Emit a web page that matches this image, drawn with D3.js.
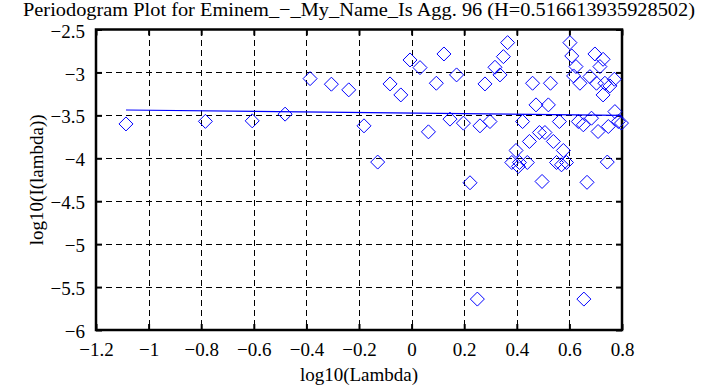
<!DOCTYPE html>
<html>
<head>
<meta charset="utf-8">
<script src="https://cdn.jsdelivr.net/npm/d3@7"></script>
<style>
  html, body { margin: 0; padding: 0; background: #fff; }
  #chart text { font-family: 'Liberation Serif', 'Times New Roman', Times, 'DejaVu Serif', serif; fill: #000; }
</style>
</head>
<body>
<svg id="chart" width="718" height="385"></svg>
<script>
var title = 'Periodogram Plot for Eminem_\u2212_My_Name_Is Agg. 96 (H=0.516613935928502)';
var hurst = 0.516613935928502;
var intercept = -3.4735;

var logLambda = [
  -1.086, -0.784, -0.606, -0.481, -0.386, -0.305, -0.239, -0.181, -0.129, -0.082,
  -0.041, -0.006, 0.032, 0.064, 0.094, 0.123, 0.146, 0.171, 0.197, 0.222,
  0.250, 0.260, 0.279, 0.298, 0.317, 0.336, 0.349, 0.365, 0.381, 0.397,
  0.406, 0.410, 0.422, 0.440, 0.448, 0.460, 0.473, 0.486, 0.496, 0.507,
  0.520, 0.528, 0.539, 0.551, 0.562, 0.570, 0.577, 0.589, 0.602, 0.609,
  0.616, 0.625, 0.634, 0.640, 0.653, 0.655, 0.667, 0.678, 0.684, 0.697,
  0.703, 0.709, 0.716, 0.728, 0.728, 0.735, 0.744, 0.748, 0.754, 0.771,
  0.773, 0.786, 0.798
];

var logI = [
  -3.600, -3.570, -3.564, -3.486, -3.072, -3.137, -3.203, -3.622, -4.044, -3.134,
  -3.262, -2.855, -2.944, -3.692, -3.126, -2.785, -3.544, -3.029, -3.591, -4.285,
  -5.640, -3.622, -3.134, -3.572, -2.940, -3.029, -2.816, -2.653, -4.049, -3.909,
  -4.095, -4.049, -3.572, -4.049, -3.804, -3.126, -3.378, -3.700, -4.270, -3.700,
  -3.378, -3.126, -3.804, -4.049, -3.572, -4.076, -3.909, -4.049, -2.653, -2.808,
  -3.041, -2.932, -3.572, -3.126, -3.610, -5.640, -4.280, -3.049, -3.533, -2.785,
  -3.126, -3.688, -2.932, -2.847, -3.262, -3.126, -4.044, -3.630, -3.157, -3.079,
  -3.456, -3.572, -3.590
];

var xTicks = [-1.2, -1, -0.8, -0.6, -0.4, -0.2, 0, 0.2, 0.4, 0.6, 0.8];
var yTicks = [-6, -5.5, -5, -4.5, -4, -3.5, -3, -2.5];

var plotLeft = 96, plotRight = 622, plotTop = 29.5, plotBottom = 330;

var svg = d3.select('#chart');

var x = d3.scaleLinear().domain([-1.2, 0.8]).range([plotLeft, plotRight]);
var y = d3.scaleLinear().domain([-6, -2.5]).range([plotBottom, plotTop]);

var fmt = function(d) {
  return String(d).replace('-', '\u2212');
};

// grid
var grid = svg.append('g')
  .attr('stroke', '#000')
  .attr('stroke-width', 1)
  .attr('stroke-dasharray', '6,4')
  .attr('shape-rendering', 'crispEdges');

grid.selectAll('.gx')
  .data(xTicks.slice(1, -1))
  .enter()
  .append('line')
  .attr('x1', function(d) { return Math.round(x(d)) + 0.5; })
  .attr('x2', function(d) { return Math.round(x(d)) + 0.5; })
  .attr('y1', plotTop)
  .attr('y2', plotBottom);

grid.selectAll('.gy')
  .data(yTicks.slice(1, -1))
  .enter()
  .append('line')
  .attr('y1', function(d) { return Math.round(y(d)) + 0.5; })
  .attr('y2', function(d) { return Math.round(y(d)) + 0.5; })
  .attr('x1', plotLeft)
  .attr('x2', plotRight);

// axes with inward ticks
var xAxis = d3.axisBottom(x).tickValues(xTicks).tickSize(-6).tickPadding(13).tickFormat(fmt);
var yAxis = d3.axisLeft(y).tickValues(yTicks).tickSize(-6).tickPadding(11).tickFormat(fmt);

var gx = svg.append('g')
  .attr('transform', 'translate(0,' + plotBottom + ')')
  .call(xAxis);

var gy = svg.append('g')
  .attr('transform', 'translate(' + plotLeft + ',0)')
  .call(yAxis);

svg.append('g')
  .attr('transform', 'translate(0,' + plotTop + ')')
  .call(d3.axisTop(x).tickValues(xTicks).tickSize(-6).tickFormat(''));

svg.append('g')
  .attr('transform', 'translate(' + plotRight + ',0)')
  .call(d3.axisRight(y).tickValues(yTicks).tickSize(-6).tickFormat(''));

svg.selectAll('.domain').remove();
svg.selectAll('.tick line').attr('stroke', '#000').attr('stroke-width', 2);

svg.selectAll('.tick text')
  .attr('font-size', 19)
  .attr('font-family', null);

gy.selectAll('.tick text').attr('dy', '0.4em');

svg.append('rect')
  .attr('x', plotLeft)
  .attr('y', plotTop)
  .attr('width', plotRight - plotLeft)
  .attr('height', plotBottom - plotTop)
  .attr('fill', 'none')
  .attr('stroke', '#000')
  .attr('stroke-width', 2.5);

// points
var points = logLambda.map(function(d, i) {
  return { x: d, y: logI[i] };
});

svg.append('g')
  .selectAll('path')
  .data(points)
  .enter()
  .append('path')
  .attr('d', function(d) {
    var cx = x(d.x), cy = y(d.y), r = 7;
    return 'M' + cx + ',' + (cy - r) + 'L' + (cx + r) + ',' + cy +
      'L' + cx + ',' + (cy + r) + 'L' + (cx - r) + ',' + cy + 'Z';
  })
  .attr('fill', 'none')
  .attr('stroke', '#0000ff')
  .attr('stroke-width', 1);

// fitted line, slope = 1 - 2H
var slope = 1 - 2 * hurst;
var xExtent = d3.extent(logLambda);

svg.append('path')
  .datum(xExtent)
  .attr('d', d3.line()
    .x(function(d) { return x(d); })
    .y(function(d) { return y(intercept + slope * d); }))
  .attr('fill', 'none')
  .attr('stroke', '#0000ff')
  .attr('stroke-width', 1.2);

// labels
svg.append('text')
  .attr('x', (plotLeft + plotRight) / 2)
  .attr('y', 16)
  .attr('text-anchor', 'middle')
  .attr('font-size', 19)
  .attr('textLength', 672)
  .attr('lengthAdjust', 'spacingAndGlyphs')
  .text(title);

svg.append('text')
  .attr('x', (plotLeft + plotRight) / 2)
  .attr('y', 381)
  .attr('text-anchor', 'middle')
  .attr('font-size', 19)
  .text('log10(Lambda)');

svg.append('text')
  .attr('transform', 'translate(43,' + ((plotTop + plotBottom) / 2) + ') rotate(-90)')
  .attr('text-anchor', 'middle')
  .attr('font-size', 19)
  .text('log10(I(lambda))');
</script>
</body>
</html>
